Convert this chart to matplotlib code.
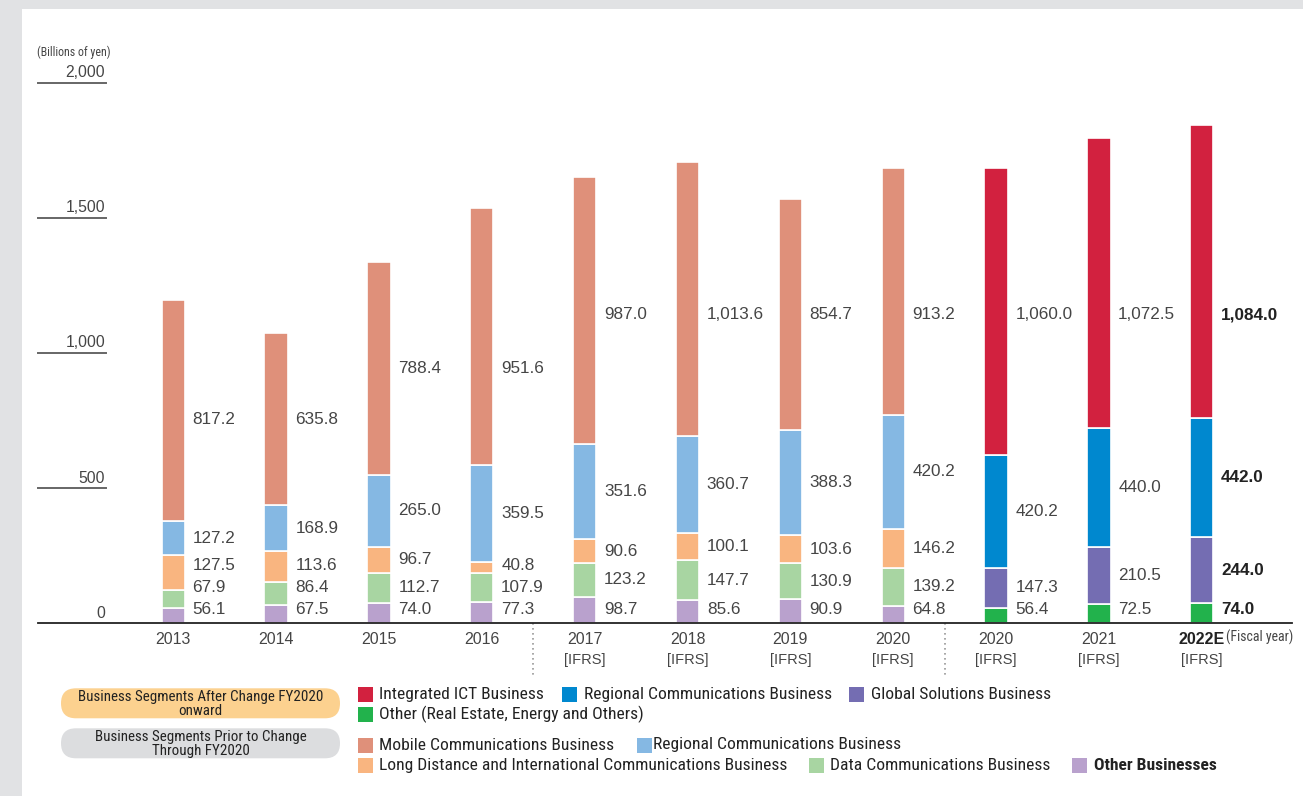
import matplotlib.pyplot as plt
from matplotlib import font_manager
from matplotlib.patches import Rectangle, FancyBboxPatch
import numpy as np

plt.rcParams['font.family'] = ['Liberation Sans', 'DejaVu Sans']

# condensed face for legend / notes, if one is installed
installed = {f.name for f in font_manager.fontManager.ttflist}
NARROW_FONT, NARROW_SCALE = 'Liberation Sans', 1.0
for name in ['Roboto Condensed', 'Liberation Sans Narrow', 'Open Sans Condensed']:
    if name in installed:
        NARROW_FONT, NARROW_SCALE = name, 1.22
        break
NARROW = [NARROW_FONT, 'DejaVu Sans']


def nsize(s):
    return s * NARROW_SCALE


# ---- data (billions of yen) ----
years = ['2013', '2014', '2015', '2016', '2017', '2018', '2019', '2020', '2020', '2021', '2022E']
ifrs = [False, False, False, False, True, True, True, True, True, True, True]

# segments prior to change (2013-2020), bottom to top
old_other = [56.1, 67.5, 74.0, 77.3, 98.7, 85.6, 90.9, 64.8]
old_data = [67.9, 86.4, 112.7, 107.9, 123.2, 147.7, 130.9, 139.2]
old_long = [127.5, 113.6, 96.7, 40.8, 90.6, 100.1, 103.6, 146.2]
old_regional = [127.2, 168.9, 265.0, 359.5, 351.6, 360.7, 388.3, 420.2]
old_mobile = [817.2, 635.8, 788.4, 951.6, 987.0, 1013.6, 854.7, 913.2]

# segments after change (2020-2022E), bottom to top
new_other = [56.4, 72.5, 74.0]
new_global = [147.3, 210.5, 244.0]
new_regional = [420.2, 440.0, 442.0]
new_ict = [1060.0, 1072.5, 1084.0]

yticks = [0, 500, 1000, 1500, 2000]

# ---- colours ----
C_MOBILE = '#DF907A'
C_OLD_REG = '#85B8E3'
C_LONG = '#F9B580'
C_DATA = '#A8D5A2'
C_OLD_OTHER = '#B9A1CD'
C_ICT = '#D2213F'
C_NEW_REG = '#0088CF'
C_GLOBAL = '#746DB2'
C_NEW_OTHER = '#22B24C'
TXT = '#454545'

old_stack = [(old_other, C_OLD_OTHER), (old_data, C_DATA), (old_long, C_LONG),
             (old_regional, C_OLD_REG), (old_mobile, C_MOBILE)]
new_stack = [(new_other, C_NEW_OTHER), (new_global, C_GLOBAL),
             (new_regional, C_NEW_REG), (new_ict, C_ICT)]

W, H = 1303, 796
fig = plt.figure(figsize=(W / 100, H / 100), dpi=100)
fig.patch.set_facecolor('#E1E2E4')

# pixel-space overlay for background and legend
lax = fig.add_axes([0, 0, 1, 1], zorder=-1)
lax.set_xlim(0, W)
lax.set_ylim(H, 0)
lax.axis('off')
lax.add_patch(Rectangle((22, 9), W - 22, H - 9, facecolor='white', edgecolor='none'))

# main chart axes: x pixel 38..1292, y pixel 623.3 (0) .. 82.7 (2000)
ax = fig.add_axes([38 / W, 1 - 623.3 / H, (1292 - 38) / W, (623.3 - 82.7) / H])
ax.set_facecolor('none')
XL = (-1.3156, 10.878)
ax.set_xlim(*XL)
ax.set_ylim(0, 2000)
for s in ['top', 'right', 'left']:
    ax.spines[s].set_visible(False)
ax.spines['bottom'].set_color('#222222')
ax.spines['bottom'].set_linewidth(1.3)
ax.set_xticks([])
ax.set_yticks([])

BAR_W = 0.227
x = np.arange(len(years))
x_old = x[:8]
x_new = x[8:]

bottom = np.zeros(len(x_old))
for vals, col in old_stack:
    ax.bar(x_old, vals, BAR_W, bottom=bottom, color=col, edgecolor='white', linewidth=1.2)
    bottom += np.array(vals)
bottom = np.zeros(len(x_new))
for vals, col in new_stack:
    ax.bar(x_new, vals, BAR_W, bottom=bottom, color=col, edgecolor='white', linewidth=1.2)
    bottom += np.array(vals)

# ---- value labels: segment centres, pushed apart, top labels aligned in rows ----
columns = [[s[0][j] for s in old_stack] for j in range(len(x_old))]
columns += [[s[0][j] for s in new_stack] for j in range(len(x_new))]

label_y = []
for vals in columns:
    vals = np.array(vals)
    centres = np.concatenate([[0], np.cumsum(vals)[:-1]]) + vals / 2
    ys = []
    for c in centres:
        ys.append(max(c, 50) if not ys else max(c, ys[-1] + 82))
    label_y.append(ys)
TOP_ROWS = [[0, 1], [2, 3], list(range(4, 11))]
for grp in TOP_ROWS:
    row = min(label_y[i][-1] for i in grp)
    for i in grp:
        label_y[i][-1] = row

for i, vals in enumerate(columns):
    bold = years[i].endswith('E')
    for v, y in zip(vals, label_y[i]):
        ax.annotate(f'{v:,.1f}', xy=(i + BAR_W / 2, y), xytext=(5.5, 0),
                    textcoords='offset points', ha='left', va='center',
                    fontsize=12.3, color='#222222' if bold else TXT,
                    fontweight='bold' if bold else 'normal')

# ---- y axis: short rules with labels above ----
tick_end = -0.654
for t in yticks:
    if t:
        ax.plot([XL[0], tick_end], [t, t], color='#666666', lw=1.4, clip_on=False)
    ax.annotate(f'{t:,}', xy=(tick_end, t), xytext=(-0.5, 4), textcoords='offset points',
                ha='right', va='baseline', fontsize=11.3, color=TXT)
lax.text(37, 52, '(Billions of yen)', ha='left', va='center', fontsize=nsize(7.0),
         family=NARROW, color=TXT)

# ---- x labels ----
for i, yr in enumerate(years):
    bold = yr.endswith('E')
    ax.annotate(yr, xy=(i, 0), xytext=(0, -12), textcoords='offset points',
                ha='center', va='center', fontsize=11.5,
                color='#222222' if bold else TXT, fontweight='bold' if bold else 'normal')
    if ifrs[i]:
        ax.annotate('[IFRS]', xy=(i, 0), xytext=(0, -26.4), textcoords='offset points',
                    ha='center', va='center', fontsize=10.5, color=TXT)
lax.text(1226, 637, '(Fiscal year)', ha='left', va='center', fontsize=nsize(8.2),
         family=NARROW, color=TXT)

for sx in [3.5, 7.5]:
    ax.plot([sx, sx], [0, -200], ls=(0, (1, 2)), color='#999999', lw=1.2, clip_on=False)

# ---- legend ----
pills = [(688.3, '#FCD18F', 'Business Segments After Change FY2020\nonward'),
         (728.3, '#DCDDDF', 'Business Segments Prior to Change\nThrough FY2020')]
for py, col, txt in pills:
    lax.add_patch(FancyBboxPatch((61, py), 279, 30, boxstyle='round,pad=0,rounding_size=15',
                                 facecolor=col, edgecolor='none'))
    lax.text(200.5, py + 15.5, txt, ha='center', va='center', fontsize=nsize(8.9),
             family=NARROW, color='#222222', linespacing=0.95)

legend_items = [
    (357.7, 379.3, 694.5, C_ICT, 'Integrated ICT Business', False),
    (562.3, 584.0, 694.5, C_NEW_REG, 'Regional Communications Business', False),
    (849.0, 870.7, 694.5, C_GLOBAL, 'Global Solutions Business', False),
    (357.7, 379.3, 714.5, C_NEW_OTHER, 'Other (Real Estate, Energy and Others)', False),
    (357.7, 379.3, 745.0, C_MOBILE, 'Mobile Communications Business', False),
    (636.7, 653.3, 745.0, C_OLD_REG, 'Regional Communications Business', False),
    (357.7, 379.3, 765.5, C_LONG, 'Long Distance and International Communications Business', False),
    (809.0, 830.0, 765.5, C_DATA, 'Data Communications Business', False),
    (1072.3, 1094.3, 765.5, C_OLD_OTHER, 'Other Businesses', True),
]
for sx, tx, cy, col, txt, bold in legend_items:
    lax.add_patch(Rectangle((sx, cy - 7.5), 15, 15, facecolor=col, edgecolor='none'))
    lax.text(tx, cy, txt, ha='left', va='center', fontsize=nsize(10.3), family=NARROW,
             color='#222222', fontweight='bold' if bold else 'normal')

fig.savefig('out.png', dpi=100, facecolor=fig.get_facecolor())
